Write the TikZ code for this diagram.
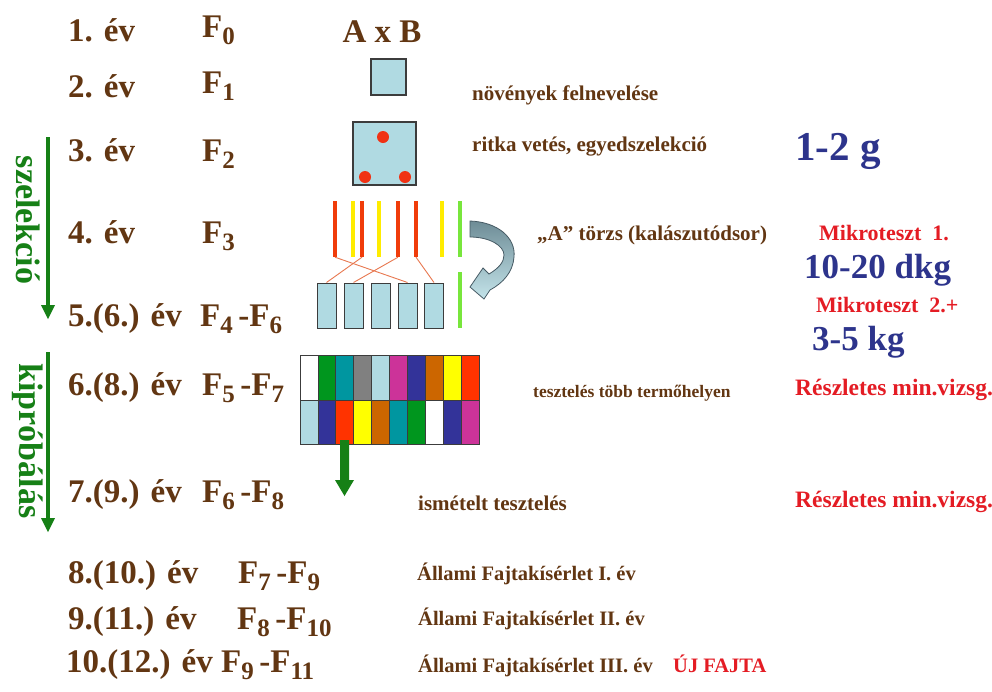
\documentclass[tikz,border=0pt]{standalone}
\usepackage{fontspec}
\setmainfont{Liberation Serif}
\definecolor{brn}{RGB}{98,54,18}
\definecolor{grn}{RGB}{22,128,22}
\definecolor{blu}{RGB}{45,52,140}
\definecolor{rd}{RGB}{228,28,36}
\definecolor{lb}{RGB}{176,218,226}
\definecolor{cg}{RGB}{0,150,30}
\definecolor{ct}{RGB}{0,150,160}
\definecolor{cgr}{RGB}{128,128,128}
\definecolor{cm}{RGB}{204,51,153}
\definecolor{cn}{RGB}{51,51,153}
\definecolor{co}{RGB}{204,102,0}
\definecolor{cy}{RGB}{255,255,0}
\definecolor{cr}{RGB}{255,51,0}
\definecolor{barr}{RGB}{240,60,10}
\definecolor{bary}{RGB}{255,236,0}
\definecolor{barg}{RGB}{120,230,60}
\definecolor{lnk}{RGB}{232,120,80}
\definecolor{dotc}{RGB}{240,50,20}
\definecolor{edge}{RGB}{60,60,60}
\newcommand\sbs[1]{\raisebox{-0.22em}{\fontsize{25}{25}\selectfont #1}}
\newcommand\hy{\,-}
\tikzset{
  yr/.style={anchor=base west, inner sep=0, text=brn, font=\fontsize{33}{36}\selectfont\bfseries},
  note/.style={anchor=base west, inner sep=0, text=brn, font=\fontsize{21}{24}\selectfont\bfseries},
  rnote/.style={anchor=base west, inner sep=0, text=rd, font=\fontsize{22}{24}\selectfont\bfseries},
  bnote/.style={anchor=base west, inner sep=0, text=blu, font=\fontsize{35}{38}\selectfont\bfseries},
  side/.style={inner sep=0, text=grn, rotate=-90, font=\fontsize{34}{36}\selectfont\bfseries},
  bar/.style={inner sep=0, minimum width=4.5pt, minimum height=56pt, draw=none},
  pbox/.style={inner sep=0, minimum width=19pt, minimum height=45pt, fill=lb, draw=edge, line width=1pt},
  sq/.style={inner sep=0, fill=lb, draw=edge, line width=1.2pt},
  link/.style={lnk, line width=0.9pt},
  garrow/.style={grn, line width=4pt}
}
\begin{document}
\begin{tikzpicture}[x=1pt,y=-1pt]
\useasboundingbox (0,0) rectangle (992,691);
\fill[white] (0,0) rectangle (992,691);
% year labels
\node[yr] (y1) at (68,41) {1. év};
\node[yr] (f1) at (202,37) {F\sbs{0}};
\node[yr] (y2) at (68,97) {2. év};
\node[yr] (f2) at (202,93) {F\sbs{1}};
\node[yr] (y3) at (68,161) {3. év};
\node[yr] (f3) at (202,161) {F\sbs{2}};
\node[yr] (y4) at (68,243) {4. év};
\node[yr] (f4) at (202,243) {F\sbs{3}};
\node[yr] (y5) at (68,326) {5.(6.) év};
\node[yr] (f5) at (200,326) {F\sbs{4}\hy F\sbs{6}};
\node[yr] (y6) at (68,395) {6.(8.) év};
\node[yr] (f6) at (202,395) {F\sbs{5}\hy F\sbs{7}};
\node[yr] (y7) at (68,502) {7.(9.) év};
\node[yr] (f7) at (202,502) {F\sbs{6}\hy F\sbs{8}};
\node[yr] (y8) at (68,583) {8.(10.) év};
\node[yr] (f8) at (238,583) {F\sbs{7}\hy F\sbs{9}};
\node[yr] (y9) at (68,629) {9.(11.) év};
\node[yr] (f9) at (237,629) {F\sbs{8}\hy F\sbs{10}};
\node[yr] (y10) at (66,672) {10.(12.) év};
\node[yr] (f10) at (221,672) {F\sbs{9}\hy F\sbs{11}};
\node[yr, anchor=base] (axb) at (382,42) {A x B};
% side labels
\node[side] (sz) at (28,220) {szelekció};
\node[side] (kp) at (28,441) {kipróbálás};
\coordinate (a1s) at (48,137); \coordinate (a1e) at (48,305);
\coordinate (a2s) at (48,352); \coordinate (a2e) at (48,518);
\draw[garrow] (a1s) -- (a1e);
\fill[grn] ([xshift=-7pt]a1e) -- ([xshift=7pt]a1e) -- ([yshift=-14pt]a1e) -- cycle;
\draw[garrow] (a2s) -- (a2e);
\fill[grn] ([xshift=-7pt]a2e) -- ([xshift=7pt]a2e) -- ([yshift=-14pt]a2e) -- cycle;
% squares
\node[sq, minimum width=35pt, minimum height=36pt] (s1) at (388.5,77) {};
\node[sq, minimum width=63pt, minimum height=63pt] (s2) at (384.5,153.5) {};
\fill[dotc] (383,137) circle (6);
\fill[dotc] (365,177) circle (6);
\fill[dotc] (405,177) circle (6);
% bars
\node[bar, fill=barr] (b1) at (335,229) {};
\node[bar, fill=bary] (b2) at (353,229) {};
\node[bar, fill=barr] (b3) at (362,229) {};
\node[bar, fill=bary] (b4) at (379,229) {};
\node[bar, fill=barr] (b5) at (398,229) {};
\node[bar, fill=barr] (b6) at (416,229) {};
\node[bar, fill=bary] (b7) at (442,229) {};
\node[bar, fill=barg] (b8) at (460,229) {};
\node[bar, fill=barg] (b9) at (460,300) {};
% boxes
\node[pbox] (p1) at (326.5,305.5) {};
\node[pbox] (p2) at (353.5,305.5) {};
\node[pbox] (p3) at (381,305.5) {};
\node[pbox] (p4) at (407.5,305.5) {};
\node[pbox] (p5) at (434,305.5) {};
\draw[link] (b1.south) -- (p4.north);
\draw[link] (b3.south) -- (p1.north);
\draw[link] (b5.south) -- (p2.north);
\draw[link] (b6.south) -- (p5.north);
% curved arrow
\path[draw={rgb,255:red,70;green,90;blue,100}, line width=0.8pt,
  top color={rgb,255:red,110;green,140;blue,150}, bottom color={rgb,255:red,196;green,228;blue,234}]
  (470,221) .. controls (498,222) and (516,238) .. (514,257)
  .. controls (513,272) and (503,283) .. (490,290)
  -- (484,299) -- (470,287) -- (483,268) -- (489,274)
  .. controls (499,268) and (504,262) .. (504,255)
  .. controls (504,246) and (490,237) .. (470,237) -- cycle;
% colour grid
\foreach \c [count=\i from 0] in {white,cg,ct,cgr,lb,cm,cn,co,cy,cr}
  \filldraw[fill=\c, draw=edge, line width=0.8pt] (300+\i*17.9,355) rectangle ++(17.9,45);
\foreach \c [count=\i from 0] in {lb,cn,cr,cy,co,ct,cg,white,cn,cm}
  \filldraw[fill=\c, draw=edge, line width=0.8pt] (300+\i*17.9,400) rectangle ++(17.9,44);
\node[inner sep=0, minimum width=179pt, minimum height=89pt] (grid) at (389.5,399.5) {};
\fill[grn] (340,440) -- (349,440) -- (349,480) -- (354,480) -- (344.5,496) -- (335,480) -- (340,480) -- cycle;
% notes
\node[note] (n1) at (472,100) {növények felnevelése};
\node[note] (n2) at (472,151) {ritka vetés, egyedszelekció};
\node[note] (n3) at (537,240) {„A” törzs (kalászutódsor)};
\node[note, font=\fontsize{17.5}{20}\selectfont\bfseries] (n4) at (533,397) {tesztelés több termőhelyen};
\node[note] (n5) at (418,510) {ismételt tesztelés};
\node[note, font=\fontsize{20.5}{22}\selectfont\bfseries] (n6) at (417,580) {Állami Fajtakísérlet I. év};
\node[note, font=\fontsize{20.5}{22}\selectfont\bfseries] (n7) at (418,625) {Állami Fajtakísérlet II. év};
\node[note, font=\fontsize{20.5}{22}\selectfont\bfseries] (n8) at (418,672) {Állami Fajtakísérlet III. év};
\node[rnote, font=\fontsize{20.5}{22}\selectfont\bfseries] (uj) at (673,672) {ÚJ FAJTA};
% right column
\node[bnote, font=\fontsize{41}{43}\selectfont\bfseries] (g1) at (795,160) {1-2 g};
\node[rnote] (m1) at (819,240) {Mikroteszt\ \ 1.};
\node[bnote] (g2) at (804,278) {10-20 dkg};
\node[rnote] (m2) at (816,312) {Mikroteszt\ \ 2.+};
\node[bnote] (g3) at (812,350) {3-5 kg};
\node[rnote, font=\fontsize{23.5}{25}\selectfont\bfseries] (r1) at (795,395) {Részletes min.vizsg.};
\node[rnote, font=\fontsize{23.5}{25}\selectfont\bfseries] (r2) at (795,507) {Részletes min.vizsg.};
\end{tikzpicture}
\end{document}
